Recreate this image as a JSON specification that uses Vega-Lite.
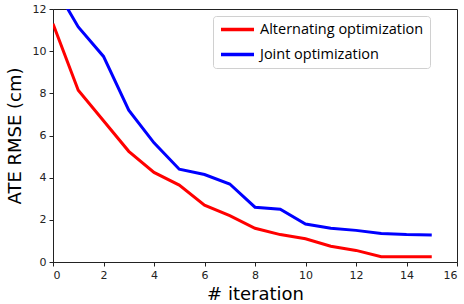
{
  "$schema": "https://vega.github.io/schema/vega-lite/v6.json",
  "autosize": {"type": "none"},
  "width": 404,
  "height": 253,
  "padding": {"left": 53, "top": 9, "right": 7, "bottom": 42},
  "background": "white",
  "config": {
    "view": {"stroke": "#222222", "strokeWidth": 1},
    "font": "DejaVu Sans"
  },
  "data": {
    "values": [
      {"iteration": 0, "ate": 11.3, "method": "Alternating optimization"},
      {"iteration": 1, "ate": 8.15, "method": "Alternating optimization"},
      {"iteration": 2, "ate": 6.7, "method": "Alternating optimization"},
      {"iteration": 3, "ate": 5.25, "method": "Alternating optimization"},
      {"iteration": 4, "ate": 4.25, "method": "Alternating optimization"},
      {"iteration": 5, "ate": 3.65, "method": "Alternating optimization"},
      {"iteration": 6, "ate": 2.7, "method": "Alternating optimization"},
      {"iteration": 7, "ate": 2.2, "method": "Alternating optimization"},
      {"iteration": 8, "ate": 1.6, "method": "Alternating optimization"},
      {"iteration": 9, "ate": 1.3, "method": "Alternating optimization"},
      {"iteration": 10, "ate": 1.1, "method": "Alternating optimization"},
      {"iteration": 11, "ate": 0.75, "method": "Alternating optimization"},
      {"iteration": 12, "ate": 0.55, "method": "Alternating optimization"},
      {"iteration": 13, "ate": 0.25, "method": "Alternating optimization"},
      {"iteration": 14, "ate": 0.25, "method": "Alternating optimization"},
      {"iteration": 15, "ate": 0.25, "method": "Alternating optimization"},
      {"iteration": 0, "ate": 13.2, "method": "Joint optimization"},
      {"iteration": 1, "ate": 11.15, "method": "Joint optimization"},
      {"iteration": 2, "ate": 9.75, "method": "Joint optimization"},
      {"iteration": 3, "ate": 7.2, "method": "Joint optimization"},
      {"iteration": 4, "ate": 5.65, "method": "Joint optimization"},
      {"iteration": 5, "ate": 4.4, "method": "Joint optimization"},
      {"iteration": 6, "ate": 4.15, "method": "Joint optimization"},
      {"iteration": 7, "ate": 3.7, "method": "Joint optimization"},
      {"iteration": 8, "ate": 2.6, "method": "Joint optimization"},
      {"iteration": 9, "ate": 2.5, "method": "Joint optimization"},
      {"iteration": 10, "ate": 1.8, "method": "Joint optimization"},
      {"iteration": 11, "ate": 1.6, "method": "Joint optimization"},
      {"iteration": 12, "ate": 1.5, "method": "Joint optimization"},
      {"iteration": 13, "ate": 1.35, "method": "Joint optimization"},
      {"iteration": 14, "ate": 1.3, "method": "Joint optimization"},
      {"iteration": 15, "ate": 1.28, "method": "Joint optimization"}
    ]
  },
  "mark": {"type": "line", "strokeWidth": 3, "clip": true},
  "encoding": {
    "x": {
      "field": "iteration", "type": "quantitative",
      "scale": {"domain": [0, 16], "nice": false, "zero": false},
      "axis": {
        "title": "# iteration", "titleFontSize": 18, "titleFontWeight": "normal",
        "titleFont": "DejaVu Sans", "titleColor": "#000000", "titlePadding": 5,
        "values": [0, 2, 4, 6, 8, 10, 12, 14, 16],
        "grid": false, "domainColor": "#222222", "tickColor": "#222222",
        "tickSize": 4, "labelFontSize": 11, "labelColor": "#222222", "labelPadding": 3
      }
    },
    "y": {
      "field": "ate", "type": "quantitative",
      "scale": {"domain": [0, 12], "nice": false},
      "axis": {
        "title": "ATE RMSE (cm)", "titleFontSize": 18, "titleFontWeight": "normal",
        "titleFont": "DejaVu Sans", "titleColor": "#000000", "titlePadding": 8,
        "values": [0, 2, 4, 6, 8, 10, 12],
        "grid": false, "domainColor": "#222222", "tickColor": "#222222",
        "tickSize": 4, "labelFontSize": 11, "labelColor": "#222222", "labelPadding": 3
      }
    },
    "color": {
      "field": "method", "type": "nominal",
      "scale": {"domain": ["Alternating optimization", "Joint optimization"], "range": ["#ff0000", "#0000ff"]},
      "legend": {
        "title": null, "orient": "none", "legendX": 160, "legendY": 7,
        "symbolType": "M-1,0H5", "symbolSize": 121, "symbolStrokeWidth": 3.5,
        "labelFontSize": 14.5, "labelFont": "Open Sans", "labelColor": "#000000",
        "labelLimit": 300,
        "padding": 6, "rowPadding": 9, "labelOffset": 26,
        "strokeColor": "#d0d0d0", "cornerRadius": 3, "fillColor": "white"
      }
    }
  }
}
